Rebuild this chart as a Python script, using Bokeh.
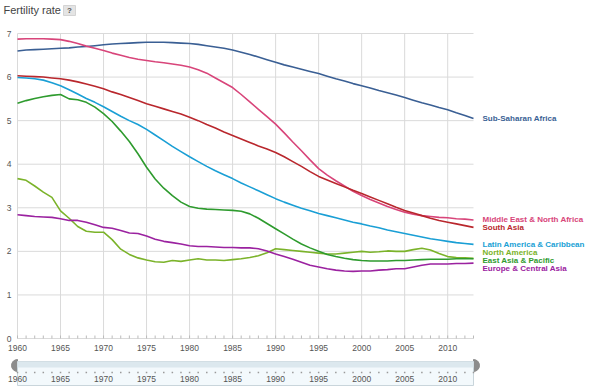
from bokeh.plotting import figure
from bokeh.models import Range1d
from bokeh.embed import file_html
from bokeh.resources import INLINE
from bokeh.core.properties import value
import numpy as np

FONT = "Liberation Sans"

years = list(range(1960, 2014))

sub_saharan_africa = [6.60, 6.62, 6.63, 6.64, 6.65, 6.66, 6.67, 6.69, 6.70, 6.72,
                      6.74, 6.76, 6.77, 6.78, 6.79, 6.80, 6.80, 6.80, 6.79, 6.78,
                      6.77, 6.75, 6.72, 6.69, 6.66, 6.62, 6.57, 6.52, 6.46, 6.40,
                      6.34, 6.28, 6.23, 6.18, 6.13, 6.08, 6.02, 5.96, 5.91, 5.85,
                      5.80, 5.75, 5.69, 5.64, 5.59, 5.53, 5.47, 5.41, 5.36, 5.30,
                      5.25, 5.18, 5.12, 5.05]
middle_east_na = [6.87, 6.88, 6.88, 6.88, 6.87, 6.86, 6.82, 6.77, 6.71, 6.66,
                  6.61, 6.55, 6.50, 6.45, 6.41, 6.38, 6.35, 6.33, 6.30, 6.27,
                  6.23, 6.17, 6.09, 5.98, 5.87, 5.76, 5.60, 5.43, 5.26, 5.09,
                  4.92, 4.72, 4.51, 4.31, 4.10, 3.90, 3.75, 3.62, 3.50, 3.38,
                  3.28, 3.19, 3.11, 3.03, 2.96, 2.90, 2.85, 2.82, 2.80, 2.78,
                  2.77, 2.75, 2.74, 2.72]
south_asia = [6.03, 6.02, 6.01, 6.00, 5.98, 5.96, 5.93, 5.89, 5.84, 5.79,
              5.73, 5.66, 5.60, 5.53, 5.46, 5.39, 5.33, 5.27, 5.21, 5.15,
              5.08, 5.00, 4.91, 4.83, 4.74, 4.66, 4.58, 4.50, 4.42, 4.35,
              4.27, 4.17, 4.06, 3.95, 3.83, 3.72, 3.64, 3.56, 3.48, 3.40,
              3.33, 3.25, 3.17, 3.09, 3.01, 2.94, 2.88, 2.82, 2.76, 2.71,
              2.67, 2.63, 2.59, 2.55]
latin_america = [5.99, 5.98, 5.96, 5.93, 5.87, 5.80, 5.71, 5.61, 5.51, 5.42,
                 5.32, 5.21, 5.10, 5.00, 4.91, 4.80, 4.67, 4.54, 4.41, 4.29,
                 4.17, 4.06, 3.95, 3.85, 3.76, 3.67, 3.57, 3.48, 3.39, 3.30,
                 3.21, 3.13, 3.06, 2.99, 2.93, 2.87, 2.82, 2.77, 2.72, 2.67,
                 2.63, 2.58, 2.54, 2.49, 2.45, 2.41, 2.37, 2.33, 2.29, 2.26,
                 2.23, 2.20, 2.18, 2.16]
north_america = [3.67, 3.63, 3.50, 3.36, 3.24, 2.93, 2.76, 2.57, 2.46, 2.44,
                 2.44, 2.27, 2.05, 1.93, 1.85, 1.80, 1.76, 1.75, 1.79, 1.77,
                 1.80, 1.83, 1.80, 1.80, 1.79, 1.81, 1.83, 1.86, 1.90, 1.97,
                 2.06, 2.04, 2.02, 2.00, 1.98, 1.96, 1.94, 1.94, 1.96, 1.98,
                 2.00, 1.98, 1.99, 2.01, 2.00, 2.00, 2.04, 2.07, 2.03, 1.95,
                 1.88, 1.86, 1.85, 1.84]
east_asia = [5.40, 5.46, 5.51, 5.55, 5.58, 5.60, 5.50, 5.48, 5.42, 5.31,
             5.16, 4.98, 4.76, 4.52, 4.24, 3.93, 3.66, 3.45, 3.28, 3.13,
             3.03, 2.99, 2.97, 2.96, 2.95, 2.94, 2.92, 2.86, 2.76, 2.64,
             2.52, 2.40, 2.28, 2.17, 2.08, 2.00, 1.93, 1.88, 1.84, 1.81,
             1.79, 1.78, 1.78, 1.78, 1.79, 1.79, 1.80, 1.81, 1.82, 1.82,
             1.82, 1.83, 1.83, 1.83]
europe_ca = [2.84, 2.82, 2.80, 2.79, 2.78, 2.75, 2.71, 2.71, 2.67, 2.61,
             2.55, 2.53, 2.48, 2.42, 2.41, 2.35, 2.28, 2.23, 2.20, 2.17,
             2.13, 2.11, 2.11, 2.10, 2.09, 2.09, 2.08, 2.08, 2.06, 2.01,
             1.94, 1.88, 1.82, 1.75, 1.68, 1.64, 1.60, 1.57, 1.55, 1.54,
             1.55, 1.55, 1.57, 1.58, 1.60, 1.60, 1.64, 1.68, 1.71, 1.71,
             1.71, 1.72, 1.72, 1.73]

series_names = ["Sub-Saharan Africa", "Middle East & North Africa", "South Asia",
                "Latin America & Caribbean", "North America", "East Asia & Pacific",
                "Europe & Central Asia"]
series_values = [sub_saharan_africa, middle_east_na, south_asia, latin_america,
                 north_america, east_asia, europe_ca]
series_colors = ["#3a5f94", "#d8457a", "#b9272d", "#1a9fd5", "#7bb32a", "#2e9b2e", "#9b22a0"]
label_shift_px = [0, 0, 0, 0, -6, 2, 5]   # downward pixel shift of end labels

x_ticks = [1960, 1965, 1970, 1975, 1980, 1985, 1990, 1995, 2000, 2005, 2010]
y_ticks = [0, 1, 2, 3, 4, 5, 6, 7]

# ---- layout (figure pixels, from top-left) ----
W, H = 599, 388
FX0, FX1 = 17, 473         # x of first / last year
FY7, FY0 = 33, 338         # y of value 7 / value 0
ppx = (FX1 - FX0) / (years[-1] - years[0])
ppy = (FY0 - FY7) / (y_ticks[-1] - y_ticks[0])
x_start = years[0] - FX0 / ppx
x_end = years[0] + (W - FX0) / ppx
y_end = y_ticks[-1] + FY7 / ppy
y_start = y_ticks[0] - (H - FY0) / ppy


def X(px):
    return x_start + px / ppx


def Y(py):
    return y_end - py / ppy


p = figure(width=W, height=H, x_range=Range1d(x_start, x_end),
           y_range=Range1d(y_start, y_end), output_backend="svg",
           toolbar_location=None, min_border=0)
p.axis.visible = False
p.grid.visible = False
p.outline_line_color = None

GRID = "#dadada"
TXT = "#555555"

# gridlines
p.segment(x0=[years[0]] * len(y_ticks), x1=[years[-1]] * len(y_ticks),
          y0=y_ticks, y1=y_ticks, line_color=GRID, line_width=1)
p.segment(x0=x_ticks, x1=x_ticks, y0=[y_ticks[0]] * len(x_ticks),
          y1=[y_ticks[-1]] * len(x_ticks), line_color=GRID, line_width=1)
# minor ticks on baseline
p.segment(x0=years, x1=years, y0=[y_ticks[0]] * len(years),
          y1=[y_ticks[0] + 3 / ppy] * len(years), line_color="#bbbbbb", line_width=1)

# axis labels
p.text(x=[X(FX0 - 6)] * len(y_ticks), y=y_ticks, text=[str(t) for t in y_ticks],
       text_font=value(FONT), text_font_size="8.5px", text_color=TXT,
       text_align="right", text_baseline="middle")
p.text(x=x_ticks, y=[Y(FY0 + 9)] * len(x_ticks), text=[str(t) for t in x_ticks],
       text_font=value(FONT), text_font_size="8.5px", text_color=TXT,
       text_align="center", text_baseline="middle")

# series
for name, vals, col, dy in zip(series_names, series_values, series_colors, label_shift_px):
    p.line(years, vals, line_color=col, line_width=1.6)
    p.text(x=[years[-1]], y=[vals[-1]], text=[name], x_offset=9, y_offset=dy,
           text_font=value(FONT), text_font_size="8px", text_font_style="bold",
           text_color=col, text_align="left", text_baseline="middle")

# title
p.text(x=[X(3)], y=[Y(9)], text=["Fertility rate"], text_font=value(FONT),
       text_font_size="11px", text_color="#444444", text_align="left",
       text_baseline="middle")
p.quad(left=[X(63)], right=[X(75)], top=[Y(5)], bottom=[Y(15)],
       fill_color="#e4e4e4", line_color="#d4d4d4")
p.text(x=[X(69)], y=[Y(10)], text=["?"], text_font=value(FONT),
       text_font_size="8px", text_font_style="bold", text_color="#555555",
       text_align="center", text_baseline="middle")

# navigator strip
p.wedge(x=[years[0]], y=[Y(365)], radius=6, radius_units="screen",
        start_angle=np.pi / 2, end_angle=3 * np.pi / 2, color="#8c8c8c")
p.wedge(x=[years[-1]], y=[Y(365)], radius=6, radius_units="screen",
        start_angle=-np.pi / 2, end_angle=np.pi / 2, color="#8c8c8c")
p.quad(left=[years[0]], right=[years[-1]], top=[Y(361)], bottom=[Y(385)],
       fill_color="#f3f9fc", line_color="#c9d5db", line_width=1)
p.quad(left=[years[0]], right=[years[-1]], top=[Y(361)], bottom=[Y(367)],
       fill_color="#dce8ee", line_color=None)
p.scatter(x=years, y=[Y(372)] * len(years), marker="square", size=1.5,
          color="#9a9a9a", line_color=None)
p.text(x=x_ticks, y=[Y(378)] * len(x_ticks), text=[str(t) for t in x_ticks],
       text_font=value(FONT), text_font_size="8.5px", text_color=TXT,
       text_align="center", text_baseline="middle")

open("out.html", "w").write(file_html(p, INLINE))
